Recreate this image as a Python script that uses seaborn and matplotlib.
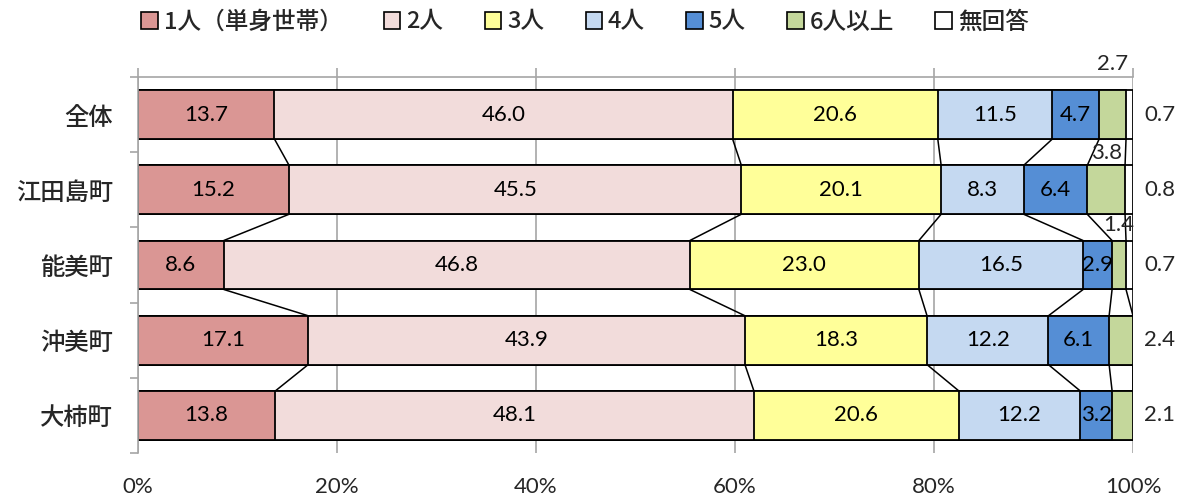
import numpy as np
import pandas as pd
import matplotlib
matplotlib.use("Agg")
import matplotlib.pyplot as plt
from matplotlib.patches import Patch
import seaborn as sns

# ---- data ----
regions = ["全体", "江田島町", "能美町", "沖美町", "大柿町"]
series_names = ["1人（単身世帯）", "2人", "3人", "4人", "5人", "6人以上", "無回答"]
one_person = [13.7, 15.2, 8.6, 17.1, 13.8]
two_person = [46.0, 45.5, 46.8, 43.9, 48.1]
three_person = [20.6, 20.1, 23.0, 18.3, 20.6]
four_person = [11.5, 8.3, 16.5, 12.2, 12.2]
five_person = [4.7, 6.4, 2.9, 6.1, 3.2]
six_plus = [2.7, 3.8, 1.4, 2.4, 2.1]
no_answer = [0.7, 0.8, 0.7, 0.0, 0.0]
xtick_values = [0, 20, 40, 60, 80, 100]
xtick_labels = ["0%", "20%", "40%", "60%", "80%", "100%"]

colors = ["#DA9694", "#F2DCDB", "#FFFF99", "#C5D9F1", "#558ED5", "#C4D79B", "#FFFFFF"]

sns.set_theme(style="white")
plt.rcParams["font.family"] = ["Noto Sans CJK JP", "DejaVu Sans"]
num_font = ["Lato", "DejaVu Sans"]
num_size = 16

values = np.array([one_person, two_person, three_person, four_person,
                   five_person, six_plus, no_answer], dtype=float)
# 100% stacked: normalise each region to its total
shares = values / values.sum(axis=0) * 100
cum = np.cumsum(shares, axis=0)
starts = cum - shares

fig = plt.figure(figsize=(11.84, 4.97), dpi=100)
ax = fig.add_axes([138 / 1184, 44 / 497, 995 / 1184, 376 / 497])

bar_w = 0.65
# draw cumulative totals from the outermost series inward
for k in range(len(series_names) - 1, -1, -1):
    df = pd.DataFrame({"region": regions, "cum": cum[k]})
    sns.barplot(data=df, x="cum", y="region", order=regions, orient="h",
                color=colors[k], saturation=1, width=bar_w,
                edgecolor="black", linewidth=1.3, ax=ax, zorder=2)

ax.set_xlim(0, 100)
ax.set_ylim(4.5, -0.5)
ax.set_xlabel("")
ax.set_ylabel("")

# series lines between neighbouring bars
half = bar_w / 2
for k in range(len(series_names)):
    for i in range(len(regions) - 1):
        ax.plot([cum[k][i], cum[k][i + 1]], [i + half, i + 1 - half],
                color="black", lw=1.1, zorder=3, solid_capstyle="butt")

# value labels inside bars
for k in range(5):
    for i in range(len(regions)):
        ax.text(starts[k][i] + shares[k][i] / 2, i, f"{values[k][i]:.1f}",
                ha="center", va="center", fontsize=num_size, family=num_font,
                color="black", zorder=4)

# small segments: labels above the bar or to the right of it
above_offsets = [-0.67, -0.49, -0.53]
for i in range(len(regions)):
    if values[6][i] > 0:
        ax.text(102.7, i, f"{values[6][i]:.1f}", ha="center", va="center",
                fontsize=num_size, family=num_font, clip_on=False)
        ax.text(starts[5][i] + shares[5][i] / 2, i + above_offsets[i],
                f"{values[5][i]:.1f}", ha="center", va="center",
                fontsize=num_size, family=num_font, clip_on=False, zorder=5)
    else:
        ax.text(102.7, i, f"{values[5][i]:.1f}", ha="center", va="center",
                fontsize=num_size, family=num_font, clip_on=False)

# axes styling
grid_c = "#A6A6A6"
ax.set_axisbelow(True)
ax.set_xticks(xtick_values)
ax.set_xticklabels(xtick_labels, family=num_font)
ax.xaxis.grid(True, color=grid_c, lw=1.2, zorder=0)
ax.yaxis.grid(False)
ax.tick_params(axis="x", which="major", top=True, bottom=False,
               labeltop=False, labelbottom=True, direction="out",
               length=6.5, width=1.2, color=grid_c, pad=11, labelsize=num_size)
ax.set_yticks(np.arange(-0.5, 5, 1), minor=True)
ax.tick_params(axis="y", which="major", left=False, length=0, pad=18,
               labelsize=17.5)
for lab in ax.get_yticklabels():
    lab.set_fontweight("medium")
ax.tick_params(axis="y", which="minor", left=True, direction="out",
               length=6, width=1.2, color=grid_c)
for side in ["right", "bottom"]:
    ax.spines[side].set_visible(False)
for side in ["top", "left"]:
    ax.spines[side].set_visible(True)
    ax.spines[side].set_color(grid_c)
    ax.spines[side].set_linewidth(1.2)

handles = [Patch(facecolor=c, edgecolor="black", linewidth=1.2) for c in colors]
fig.legend(handles, series_names, loc="center", bbox_to_anchor=(585 / 1184, 1 - 22 / 497),
           ncol=7, frameon=False, prop={"size": 17, "weight": "medium"},
           handlelength=0.7, handleheight=0.7,
           handletextpad=0.25, columnspacing=1.75)

fig.savefig("out.png", dpi=100)
